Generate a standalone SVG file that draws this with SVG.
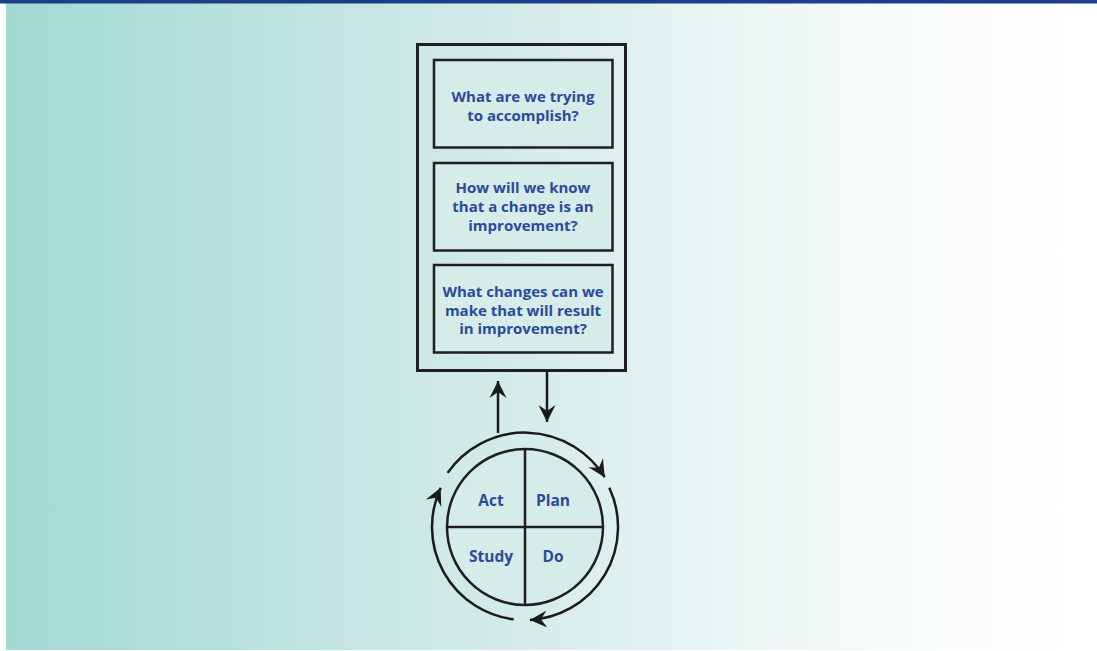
<svg xmlns="http://www.w3.org/2000/svg" width="1097" height="651" viewBox="0 0 1097 651">
<defs>
<linearGradient id="bg" x1="0" y1="0" x2="1" y2="0">
<stop offset="0" stop-color="#a2d9d3"/>
<stop offset="0.45" stop-color="#d3ebe8"/>
<stop offset="0.8" stop-color="#f7fbfb"/>
<stop offset="1" stop-color="#ffffff"/>
</linearGradient>
<marker id="ah" markerUnits="userSpaceOnUse" markerWidth="24" markerHeight="24" viewBox="-19 -12 24 24" refX="0" refY="0" orient="auto">
<path d="M0,0 L-17,-8.5 L-11,0 L-17,8.5 Z" fill="#1a1a1a"/>
</marker>
<style>
.box{fill:#d6ece9;stroke:#1f1f1f;stroke-width:2.5}
.outer{fill:none;stroke:#1f1f1f;stroke-width:3}
.t{font-family:"Open Sans","Liberation Sans",sans-serif;font-weight:bold;font-size:15px;fill:#2b4a9b;text-anchor:middle}
.lbl{font-size:15.5px}
.ln{fill:none;stroke:#1a1a1a;stroke-width:2.5}
</style>
</defs>
<rect x="0" y="0" width="1097" height="651" fill="#ffffff"/>
<rect x="6" y="3" width="1091" height="647" fill="url(#bg)"/>
<rect x="0" y="0" width="1097" height="3.5" fill="#1c3f8c"/>

<g id="outer-box">
<rect class="outer" x="417.5" y="44.5" width="208" height="326"/>
</g>
<g id="q1">
<rect class="box" x="434" y="60" width="178.5" height="87.5"/>
<text class="t" x="523" y="102">What are we trying</text>
<text class="t" x="523" y="121">to accomplish?</text>
</g>
<g id="q2">
<rect class="box" x="434" y="163" width="178.5" height="87.5"/>
<text class="t" x="523" y="193">How will we know</text>
<text class="t" x="523" y="212">that a change is an</text>
<text class="t" x="523" y="231">improvement?</text>
</g>
<g id="q3">
<rect class="box" x="434" y="265" width="178.5" height="87.5"/>
<text class="t" x="523" y="297">What changes can we</text>
<text class="t" x="523" y="315.5">make that will result</text>
<text class="t" x="523" y="334">in improvement?</text>
</g>
<g id="pdsa">
<circle cx="525" cy="527" r="78" fill="#d6ece9" stroke="#1f1f1f" stroke-width="2.5"/>
<line x1="525" y1="449" x2="525" y2="605" stroke="#1f1f1f" stroke-width="2.5"/>
<line x1="447" y1="527" x2="603" y2="527" stroke="#1f1f1f" stroke-width="2.5"/>
<text class="t lbl" x="491" y="506">Act</text>
<text class="t lbl" x="553" y="506">Plan</text>
<text class="t lbl" x="491" y="562">Study</text>
<text class="t lbl" x="553" y="562">Do</text>
</g>
<g id="connectors">
<path class="ln" d="M498,433 L498,381" marker-end="url(#ah)"/>
<path class="ln" d="M547,371 L547,422" marker-end="url(#ah)"/>
<path class="ln" d="M447.6,472.9 A94,94 0 0 1 604.7,477.2" marker-end="url(#ah)"/>
<path class="ln" d="M609.3,487.7 A93,93 0 0 1 529.9,619.9" marker-end="url(#ah)"/>
<path class="ln" d="M513.7,619.3 A93,93 0 0 1 440.7,487.7" marker-end="url(#ah)"/>
</g>
</svg>
